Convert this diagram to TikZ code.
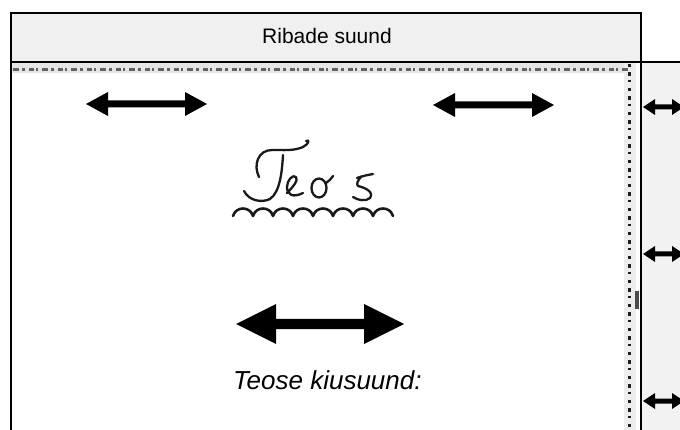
\documentclass[tikz,border=0pt]{standalone}
\usepackage{fontspec}
\setmainfont{Liberation Sans}
\definecolor{barfill}{HTML}{F0F0F0}
\definecolor{panelfill}{HTML}{F2F2F2}
\definecolor{edgegrey}{HTML}{1E1E1E}
% double-headed block arrow: x1, x2, y, half shaft, half head, head length
\newcommand{\twowayarrow}[6]{%
  \fill (#1,#3) -- (#1+#6,#3-#5) -- (#1+#6,#3-#4) -- (#2-#6,#3-#4)
    -- (#2-#6,#3-#5) -- (#2,#3) -- (#2-#6,#3+#5) -- (#2-#6,#3+#4)
    -- (#1+#6,#3+#4) -- (#1+#6,#3+#5) -- cycle;}
\begin{document}
\begin{tikzpicture}[x=1pt,y=-1pt,
  frame/.style={line width=2.2pt,black},
  pen/.style={line width=2.3pt,line cap=round,line join=round,black!90},
  roughedge/.style={line width=3pt,edgegrey,
    dash pattern=on 6pt off 3pt on 3pt off 4pt on 5pt off 2pt on 2pt off 4pt},
  label/.style={inner sep=0pt,anchor=base west,text=black}]
\useasboundingbox (0,0) rectangle (680,430);
\fill[white] (0,0) rectangle (680,430);

% right-hand side panel
\fill[panelfill] (641,62) rectangle (680,430);
\draw[frame] (641,62) -- (680,62);
\draw[frame] (641,62) -- (641,430);

% main sheet
\draw[frame] (11,62) -- (11,430);

% rough torn edge along the top and the right of the sheet
\fill[black!10] (12,63) rectangle (636,73);
\fill[black!7] (624,63) rectangle (636,430);
\draw[roughedge,edgegrey!70] (13,70) -- (628,70);
\draw[roughedge,dash pattern=on 3pt off 5pt on 4pt off 4pt on 2pt off 6pt] (629,64) -- (629,430);
\fill[edgegrey!80] (635,291) rectangle (639,309);

% heading bar
\draw[frame,fill=barfill] (11,13) rectangle (641,62);
\node[label,font=\fontsize{21}{24}\selectfont] (ribad) at (262,44) {Ribade suund};

% direction arrows
\twowayarrow{86}{207}{104}{3.5}{12}{22}
\twowayarrow{433}{554}{105}{3.5}{12}{22}
\twowayarrow{236}{404}{324}{5}{20}{40}
\begin{scope}
  \clip (641,62) rectangle (680,430);
  \twowayarrow{643}{684}{107}{2.5}{8}{12}
  \twowayarrow{643}{684}{254}{2.5}{8}{12}
  \twowayarrow{643}{684}{401}{2.5}{8}{12}
\end{scope}

% handwritten title
% T: looped crossbar with a curl at its end
\draw[pen] (259,177) .. controls (253,165) and (258,150) .. (272,150)
  .. controls (284,150) and (294,151) .. (303,147)
  .. controls (309,144) and (310,139) .. (306,141);
% T: stem
\draw[pen] (283,155) .. controls (282,172) and (280,192) .. (270,199)
  .. controls (262,203) and (249,201) .. (244,191);
% e
\draw[pen] (287,193) .. controls (292,188) and (299,180) .. (296,177)
  .. controls (293,174) and (287,180) .. (287,187)
  .. controls (287,195) and (293,198) .. (303,193);
% o with its tail
\draw[pen] (319,188) ellipse [x radius=7.5,y radius=9.5];
\draw[pen] (326,183) .. controls (329,181) and (331,179) .. (333,176);
% s
\draw[pen] (357,178) .. controls (362,176) and (368,175) .. (373,174);
\draw[pen] (361,177) .. controls (358,180) and (356,184) .. (358,186)
  .. controls (366,188) and (374,192) .. (370,198)
  .. controls (366,202) and (357,200) .. (353,197);
% wavy underline
\draw[pen,line width=2.6pt] (233,216)
  \foreach \i in {0,...,7} { .. controls (236+20*\i,206) and (250+20*\i,206) .. (253+20*\i,216) };

% caption
\node[label,font=\itshape\fontsize{26}{30}\selectfont] (kiud) at (233,389) {Teose kiusuund:};
\end{tikzpicture}
\end{document}
